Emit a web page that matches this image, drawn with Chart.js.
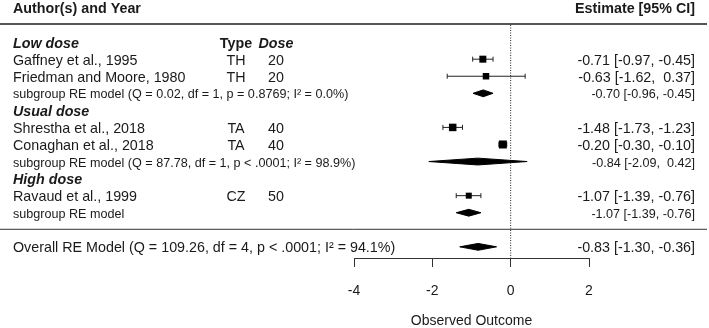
<!DOCTYPE html>
<html>
<head>
<meta charset="utf-8">
<script src="https://cdn.jsdelivr.net/npm/chart.js@4.4.1/dist/chart.umd.min.js"></script>
<style>
  html, body { margin: 0; padding: 0; background: #ffffff; }
  #wrap { width: 709px; height: 328px; }
</style>
</head>
<body>
<div id="wrap"><canvas id="c" width="709" height="328"></canvas></div>
<script>
// ---------------- data ----------------
const groupNames = ['Low dose', 'Usual dose', 'High dose'];
const studies = ['Gaffney et al., 1995', 'Friedman and Moore, 1980', 'Shrestha et al., 2018', 'Conaghan et al., 2018', 'Ravaud et al., 1999'];
const studyGroup = [0, 0, 1, 1, 2];
const types = ['TH', 'TH', 'TA', 'TA', 'CZ'];
const doses = [20, 20, 40, 40, 50];
const estimates = [-0.71, -0.63, -1.48, -0.20, -1.07];
const ciLower = [-0.97, -1.62, -1.73, -0.30, -1.39];
const ciUpper = [-0.45, 0.37, -1.23, -0.10, -0.76];

const subgroupLabels = [
  'subgroup RE model (Q = 0.02, df = 1, p = 0.8769; I\u00B2 = 0.0%)',
  'subgroup RE model (Q = 87.78, df = 1, p < .0001; I\u00B2 = 98.9%)',
  'subgroup RE model'
];
const subgroupEst = [-0.70, -0.84, -1.07];
const subgroupLower = [-0.96, -2.09, -1.39];
const subgroupUpper = [-0.45, 0.42, -0.76];

const overallLabel = 'Overall RE Model (Q = 109.26, df = 4, p < .0001; I\u00B2 = 94.1%)';
const overallEst = -0.83;
const overallLower = -1.30;
const overallUpper = -0.36;

const tickValues = [-4, -2, 0, 2];
const tickLabels = ['-4', '-2', '0', '2'];
const axisTitle = 'Observed Outcome';
const headerLeft = 'Author(s) and Year';
const headerRight = 'Estimate [95% CI]';
const headerType = 'Type';
const headerDose = 'Dose';

// ---------------- styles ----------------
const FONT = "'Liberation Sans', Arial, Helvetica, sans-serif";
const INK = '#1a1a1a';
const FS = 14.3;        // main text size
const FS_SMALL = 12.6;  // subgroup text size
const TEXT_DY = 1.5;    // visual centring of text on rows
const markerSide = [7, 6.5, 7.5, 8, 6];   // px, square side per study
const diamondHalf = 0.2;                  // row units
const AXIS_HEIGHT = 70;
const Y_MAX = 13.654;

// ---------------- row layout ----------------
const studyRow = [], groupRow = [], subgroupRow = [];
let r = 1;
groupNames.forEach((g, gi) => {
  groupRow[gi] = r++;
  studies.forEach((s, si) => { if (studyGroup[si] === gi) studyRow[si] = r++; });
  subgroupRow[gi] = r++;
});
const sepRow = r;
const overallRow = r + 1;

const fmt = v => v.toFixed(2).padStart(5, ' ');
const ciText = (e, l, u) => fmt(e) + ' [' + fmt(l) + ', ' + fmt(u) + ']';

// ---------------- datasets ----------------
const datasets = [];

// reference line at 0 (dotted)
datasets.push({
  type: 'scatter', showLine: true,
  data: [{x: 0, y: 0}, {x: 0, y: Y_MAX}],
  borderColor: '#222', borderWidth: 1, borderDash: [1, 1.5],
  pointRadius: 0, fill: false, order: 5
});

// CI whiskers
studies.forEach((s, i) => {
  datasets.push({
    type: 'scatter', showLine: true,
    data: [{x: ciLower[i], y: studyRow[i]}, {x: ciUpper[i], y: studyRow[i]}],
    borderColor: '#222', borderWidth: 1,
    pointStyle: 'line', rotation: 90, pointRadius: 2.5,
    pointBorderColor: '#222', pointBorderWidth: 1,
    fill: false, order: 3
  });
});

// study squares
datasets.push({
  type: 'scatter',
  data: studies.map((s, i) => ({x: estimates[i], y: studyRow[i]})),
  pointStyle: 'rect',
  pointRadius: markerSide.map(s => s / Math.SQRT2),
  backgroundColor: '#000', borderColor: '#000', borderWidth: 0,
  order: 1
});

// diamonds
function diamond(e, l, u, row) {
  return {
    type: 'scatter', showLine: true,
    data: [{x: l, y: row}, {x: e, y: row - diamondHalf}, {x: u, y: row}, {x: e, y: row + diamondHalf}, {x: l, y: row}],
    borderColor: '#000', borderWidth: 1, backgroundColor: '#000',
    fill: 'shape', pointRadius: 0, tension: 0, order: 2
  };
}
groupNames.forEach((g, gi) => datasets.push(diamond(subgroupEst[gi], subgroupLower[gi], subgroupUpper[gi], subgroupRow[gi])));
datasets.push(diamond(overallEst, overallLower, overallUpper, overallRow));

// ---------------- text plugin ----------------
const textPlugin = {
  id: 'forestText',
  afterDraw(chart) {
    const ctx = chart.ctx;
    const y = chart.scales.y;
    const W = chart.width;
    const X_LEFT = 13, X_TYPE = 236, X_DOSE = 276, X_RIGHT = 695;
    const py = row => y.getPixelForValue(row);
    const ty = row => py(row) + TEXT_DY;
    ctx.save();
    ctx.fillStyle = INK;
    ctx.textBaseline = 'middle';

    // headers
    ctx.font = 'bold ' + FS + 'px ' + FONT;
    ctx.textAlign = 'left';
    ctx.fillText(headerLeft, X_LEFT, ty(-1));
    ctx.textAlign = 'right';
    ctx.fillText(headerRight, X_RIGHT, ty(-1));

    // separator lines
    ctx.strokeStyle = '#555';
    ctx.lineWidth = 2;
    ctx.beginPath(); ctx.moveTo(0, py(0) - 1); ctx.lineTo(W - 2, py(0) - 1); ctx.stroke();
    ctx.strokeStyle = '#333';
    ctx.lineWidth = 1;
    ctx.beginPath(); ctx.moveTo(0, py(sepRow) - 0.5); ctx.lineTo(W - 2, py(sepRow) - 0.5); ctx.stroke();

    // groups
    groupNames.forEach((g, gi) => {
      ctx.font = 'italic bold ' + FS + 'px ' + FONT;
      ctx.textAlign = 'left';
      ctx.fillText(g, X_LEFT, ty(groupRow[gi]));
      if (gi === 0) {
        ctx.font = 'bold ' + FS + 'px ' + FONT;
        ctx.textAlign = 'center';
        ctx.fillText(headerType, X_TYPE, ty(groupRow[gi]));
        ctx.font = 'italic bold ' + FS + 'px ' + FONT;
        ctx.fillText(headerDose, X_DOSE, ty(groupRow[gi]));
      }
      ctx.font = FS_SMALL + 'px ' + FONT;
      ctx.textAlign = 'left';
      ctx.fillText(subgroupLabels[gi], X_LEFT, ty(subgroupRow[gi]));
      ctx.textAlign = 'right';
      ctx.fillText(ciText(subgroupEst[gi], subgroupLower[gi], subgroupUpper[gi]), X_RIGHT, ty(subgroupRow[gi]));
    });

    // studies
    ctx.font = FS + 'px ' + FONT;
    studies.forEach((s, i) => {
      const yy = ty(studyRow[i]);
      ctx.textAlign = 'left';
      ctx.fillText(s, X_LEFT, yy);
      ctx.textAlign = 'center';
      ctx.fillText(types[i], X_TYPE, yy);
      ctx.fillText(String(doses[i]), X_DOSE, yy);
      ctx.textAlign = 'right';
      ctx.fillText(ciText(estimates[i], ciLower[i], ciUpper[i]), X_RIGHT, yy);
    });

    // overall
    ctx.textAlign = 'left';
    ctx.fillText(overallLabel, X_LEFT, ty(overallRow));
    ctx.textAlign = 'right';
    ctx.fillText(ciText(overallEst, overallLower, overallUpper), X_RIGHT, ty(overallRow));

    ctx.restore();
  }
};

new Chart(document.getElementById('c'), {
  type: 'scatter',
  data: { datasets },
  plugins: [textPlugin],
  options: {
    responsive: false,
    devicePixelRatio: 1,
    animation: false,
    events: [],
    clip: false,
    layout: { padding: { left: 354, right: 120, top: 8, bottom: 0 } },
    plugins: { legend: { display: false }, tooltip: { enabled: false } },
    scales: {
      x: {
        type: 'linear', min: -4, max: 2,
        afterBuildTicks: s => { s.ticks = tickValues.map(v => ({value: v})); },
        afterFit: s => { s.height = AXIS_HEIGHT; },
        ticks: {
          callback: (v, i) => tickLabels[i],
          padding: 16, color: INK, font: { family: FONT, size: 14 },
          maxRotation: 0, autoSkip: false
        },
        grid: { drawOnChartArea: false, drawTicks: true, tickLength: 9, color: '#333', lineWidth: 1 },
        border: { display: true, color: '#333', width: 1 },
        title: { display: true, text: axisTitle, color: INK, font: { family: FONT, size: 14, lineHeight: 1.0 }, padding: { top: 0, bottom: 0 } }
      },
      y: {
        type: 'linear', reverse: true, min: -1, max: Y_MAX, display: false
      }
    }
  }
});
</script>
</body>
</html>
